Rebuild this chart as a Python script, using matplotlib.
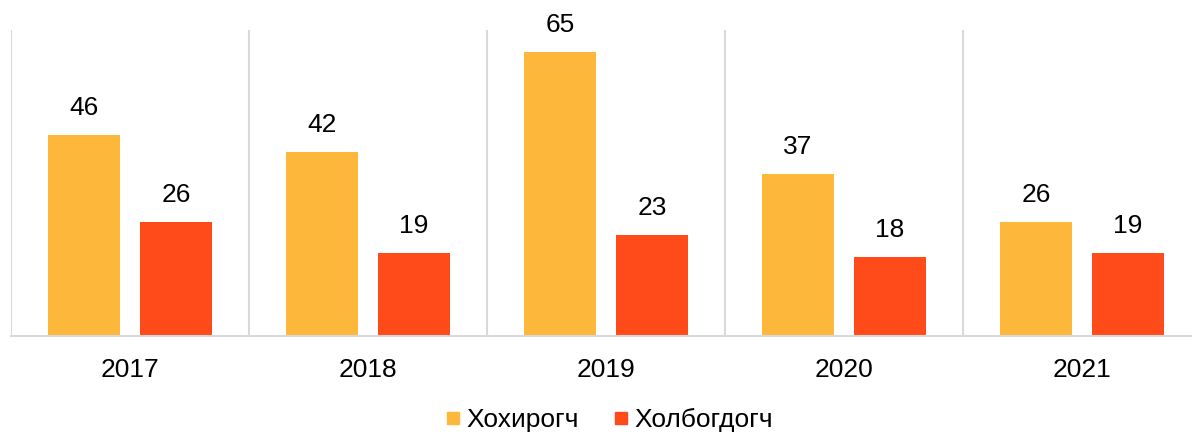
import matplotlib.pyplot as plt
from matplotlib.lines import Line2D

plt.rcParams['font.family'] = ['Liberation Sans', 'DejaVu Sans']

years = ['2017', '2018', '2019', '2020', '2021']
khokhirogch = [46, 42, 65, 37, 26]   # Хохирогч
kholbogdogch = [26, 19, 23, 18, 19]  # Холбогдогч
series_names = ['Хохирогч', 'Холбогдогч']
colors = ['#FDB73A', '#FF4B19']

fig = plt.figure(figsize=(11.92, 4.34), dpi=100)
# axes runs a little past the right edge like the original
ax = fig.add_axes([11/1192, 98/434, 1190/1192, 306/434])

x = list(range(len(years)))
w = 0.30
off = 0.193
ax.bar([i - off for i in x], khokhirogch, width=w, color=colors[0], zorder=2)
ax.bar([i + off for i in x], kholbogdogch, width=w, color=colors[1], zorder=2)

for i in x:
    ax.annotate(str(khokhirogch[i]), (i - off, khokhirogch[i]), xytext=(0, 27),
                textcoords='offset pixels', ha='center', va='center', fontsize=19)
    ax.annotate(str(kholbogdogch[i]), (i + off, kholbogdogch[i]), xytext=(0, 27),
                textcoords='offset pixels', ha='center', va='center', fontsize=19)

# category separators
for b in range(len(years) + 1):
    ax.axvline(b - 0.5, color='#D9D9D9', lw=1.5, zorder=1)

ax.set_xlim(-0.5, len(years) - 0.5)
ax.set_ylim(0, 70)
ax.set_xticks(x)
ax.set_xticklabels(years, fontsize=19)
ax.tick_params(axis='x', length=0, pad=16)
ax.set_yticks([])
for s in ['top', 'right', 'left']:
    ax.spines[s].set_visible(False)
ax.spines['bottom'].set_color('#D9D9D9')
ax.spines['bottom'].set_linewidth(1.5)

# legend sits low, just above the bottom edge
handles = [Line2D([], [], marker='s', ls='', color=c, markersize=9) for c in colors]
fig.legend(handles, series_names, loc='center', bbox_to_anchor=(608/1192, 1 - 420/434),
           ncol=2, frameon=False, fontsize=19, handletextpad=0.1, columnspacing=1.2,
           handlelength=0.8)

fig.savefig('out.png', dpi=100)
